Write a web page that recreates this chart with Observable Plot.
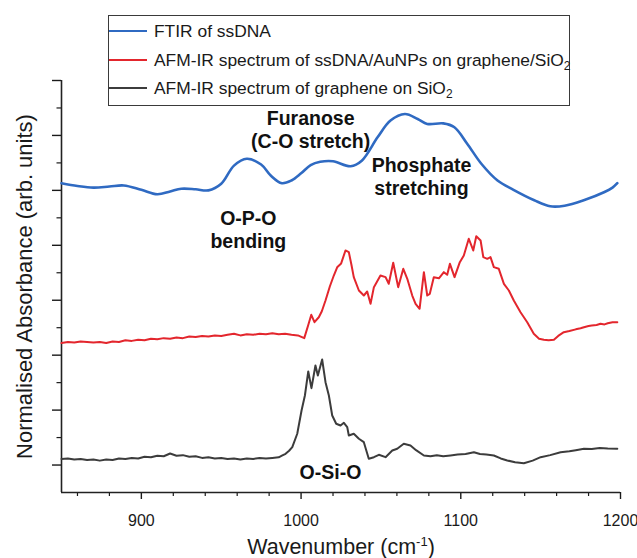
<!DOCTYPE html>
<html>
<head>
<meta charset="utf-8">
<script src="https://cdn.jsdelivr.net/npm/d3@7"></script>
<script src="https://cdn.jsdelivr.net/npm/@observablehq/plot@0.6"></script>
<style>
  body { margin: 0; background: #fff; }
  #wrap { position: relative; width: 637px; height: 558px; font-family: "Liberation Sans", Arial, sans-serif; color: #1a1a1a; }
  #wrap svg { position: absolute; left: 0; top: 0; }
  .legend { position: absolute; left: 108px; top: 15px; width: 462px; height: 91px; border: 1.3px solid #3a3a3a; box-sizing: border-box; background: #fff; }
  .legend .row { position: absolute; left: 0; height: 20px; font-size: 17.4px; line-height: 20px; white-space: nowrap; }
  .legend .sw { position: absolute; left: 0; top: 9px; width: 38px; height: 0; border-top: 2px solid; }
  .legend .lbl { position: absolute; left: 45px; top: 0; }
  .legend sub { font-size: 12px; vertical-align: -4px; line-height: 0; }
  .xtitle { position: absolute; left: 341px; top: 535px; transform: translateX(-50%); font-size: 21.5px; white-space: nowrap; }
  .xtitle sup { font-size: 13px; vertical-align: 8px; line-height: 0; }
</style>
</head>
<body>
<div id="wrap"></div>
<script>
// ---- data ----
const ftirWave = [850,860,870,880,889,900,910,918,925,934,942,950,958,966,975,981,988,994,1000,1006,1012,1020,1031,1038,1048,1056,1065,1073,1079,1089,1096,1104,1113,1123,1133,1146,1156,1165,1177,1190,1195,1198];
const ftirVal  = [5.13,5.08,5.05,5.07,5.09,5.01,4.93,4.98,5.03,5.02,5.00,5.12,5.45,5.575,5.47,5.27,5.13,5.18,5.31,5.46,5.52,5.53,5.44,5.54,5.97,6.27,6.39,6.30,6.21,6.22,6.15,5.85,5.48,5.18,5.01,4.82,4.71,4.72,4.82,4.97,5.05,5.13];

const dnaWave = [850,854,858,862,866,870,874,878,882,886,890,894,898,902,906,910,914,918,922,926,930,934,938,942,946,950,954,958,962,966,970,974,978,982,986,990,994,998,1002,
  1004.5,1006.4,1008.4,1011.1,1013,1015.3,1018,1020.5,1022.6,1025.1,1027.8,1029.9,1031.5,1033,1036.2,1039.3,1041.4,1043.5,1045.6,1049.7,1052.9,1054.9,1057.7,1060.8,1064,1066.5,1069.6,1071.7,1074.2,1076.9,1079,1080.6,1083.1,1086.3,1089.4,1091.5,1093.2,1096.1,1099.4,1101.9,1105,1107.8,1109.7,1112.4,1114.1,1116.6,1118.6,1120.7,1123.8,1127,1130.1,1133.2,1137.4,1141.6,1145.7,1149,1152,1155,1158.3,1161,1164.5,1168,1172,1175,1177.1,1180,1182,1185,1187.5,1190,1192,1195,1198];
const dnaVal = [2.22,2.24,2.23,2.25,2.24,2.23,2.24,2.22,2.25,2.24,2.27,2.26,2.28,2.27,2.30,2.29,2.31,2.30,2.32,2.31,2.34,2.33,2.35,2.34,2.36,2.35,2.37,2.39,2.36,2.38,2.37,2.39,2.38,2.40,2.38,2.39,2.37,2.36,2.31,
  2.55,2.735,2.60,2.69,2.80,2.995,3.25,3.45,3.60,3.67,3.906,3.875,3.65,3.42,3.177,3.086,3.159,2.935,3.238,3.45,3.42,3.30,3.682,3.238,3.572,3.39,3.086,2.935,2.844,3.511,3.086,3.117,3.42,3.40,3.511,3.463,3.663,3.42,3.693,3.815,4.119,3.906,4.166,4.088,3.784,3.754,3.784,3.602,3.572,3.299,3.177,2.995,2.782,2.60,2.389,2.30,2.28,2.27,2.28,2.35,2.418,2.44,2.47,2.49,2.509,2.53,2.54,2.55,2.571,2.56,2.58,2.60,2.60];

const grWave = [850,854,858,862,866,870,874,878,882,886,890,894,898,902,906,910,914,918,922,926,930,934,938,942,946,950,954,958,962,966,970,974,978,982,986,988,990.3,992.5,994.5,997.6,1000.3,1002.4,1004.5,1006.5,1009,1010.5,1013.2,1015.3,1017.4,1019.5,1022,1024.7,1026.8,1028.9,1029.9,1033,1036.2,1039.3,1042.4,1045.6,1048.7,1052.9,1057.1,1060.2,1064.3,1068.5,1072,1076.9,1081,1085,1089,1093.6,1098,1103,1108.2,1112,1116,1120.7,1125,1129.1,1134,1139.5,1145,1150,1156,1162.5,1168,1172,1177.1,1182,1187,1192,1198];
const grVal = [0.11,0.12,0.10,0.11,0.09,0.10,0.08,0.10,0.09,0.12,0.11,0.13,0.12,0.15,0.14,0.17,0.16,0.21,0.17,0.18,0.15,0.16,0.13,0.14,0.12,0.13,0.11,0.12,0.10,0.12,0.11,0.13,0.12,0.13,0.14,0.17,0.205,0.26,0.325,0.569,0.993,1.266,1.703,1.399,1.812,1.63,1.921,1.508,1.266,0.902,0.751,0.72,0.769,0.689,0.538,0.569,0.478,0.416,0.114,0.143,0.186,0.143,0.265,0.296,0.387,0.356,0.27,0.174,0.16,0.18,0.16,0.174,0.19,0.20,0.234,0.20,0.19,0.174,0.12,0.083,0.05,0.033,0.08,0.143,0.18,0.234,0.25,0.27,0.296,0.29,0.31,0.30,0.296];

const xMajor = [900, 1000, 1100, 1200];
const xMinor = [860, 880, 920, 940, 960, 980, 1020, 1040, 1060, 1080, 1120, 1140, 1160, 1180];
const yMajor = [0, 1, 2, 3, 4, 5, 6, 7];
const yMinor = [0.5, 1.5, 2.5, 3.5, 4.5, 5.5, 6.5];

const notes = [
  {text: "Furanose\n(C-O stretch)", w: 1006, v: 6.12},
  {text: "O-P-O\nbending", w: 967, v: 4.30},
  {text: "Phosphate\nstretching", w: 1075.4, v: 5.265},
  {text: "O-Si-O", w: 1018.4, v: -0.118}
];

const seriesNames = ["FTIR of ssDNA", "AFM-IR spectrum of ssDNA/AuNPs on graphene/SiO", "AFM-IR spectrum of graphene on SiO"];
const colors = ["#2f6ac2", "#e3262d", "#3c3c3c"];

// ---- build ----
const ftir = ftirWave.map((w, i) => ({w, v: ftirVal[i]}));
const dna = dnaWave.map((w, i) => ({w, v: dnaVal[i]}));
const gr = grWave.map((w, i) => ({w, v: grVal[i]}));

const plot = Plot.plot({
  width: 637,
  height: 558,
  marginLeft: 61,
  marginRight: 17,
  marginTop: 80,
  marginBottom: 66,
  style: {fontFamily: "'Liberation Sans', Arial, sans-serif", background: "transparent", color: "#1a1a1a", overflow: "visible"},
  x: {domain: [850, 1200]},
  y: {domain: [-0.5, 7]},
  marks: [
    Plot.axisX({ticks: xMajor, tickSize: 7, tickPadding: 15, fontSize: 16, strokeWidth: 1.4, label: null, tickFormat: d => String(d)}),
    Plot.axisX({ticks: xMinor, tickSize: 4, tickFormat: () => "", strokeWidth: 1.2, label: null}),
    Plot.axisY({ticks: yMajor, tickSize: 9, tickFormat: () => "", strokeWidth: 1.4, label: null}),
    Plot.axisY({ticks: yMinor, tickSize: 4.5, tickFormat: () => "", strokeWidth: 1.2, label: null}),
    Plot.ruleX([850], {y1: -0.5, y2: 7, stroke: "#222", strokeWidth: 1.6}),
    Plot.ruleY([-0.5], {x1: 850, x2: 1200, stroke: "#222", strokeWidth: 1.6}),
    Plot.line(gr, {x: "w", y: "v", stroke: colors[2], strokeWidth: 2}),
    Plot.line(dna, {x: "w", y: "v", stroke: colors[1], strokeWidth: 2}),
    Plot.line(ftir, {x: "w", y: "v", stroke: colors[0], strokeWidth: 2.6, curve: "catmull-rom"}),
    Plot.text(notes, {x: "w", y: "v", text: "text", fontSize: 19.5, fontWeight: "bold", lineHeight: 1.2, fill: "#111"}),
    Plot.text(["Normalised Absorbance (arb. units)"], {frameAnchor: "left", textAnchor: "middle", dx: -37, rotate: -90, fontSize: 22, fill: "#1a1a1a"})
  ]
});

const wrap = document.getElementById("wrap");
wrap.appendChild(plot);

// legend
const legend = document.createElement("div");
legend.className = "legend";
const rowTops = [5, 34, 62];
seriesNames.forEach((name, i) => {
  const row = document.createElement("div");
  row.className = "row";
  row.style.top = rowTops[i] + "px";
  const sw = document.createElement("div");
  sw.className = "sw";
  sw.style.borderTopColor = colors[i];
  const lbl = document.createElement("div");
  lbl.className = "lbl";
  lbl.textContent = name;
  if (i > 0) {
    const sub = document.createElement("sub");
    sub.textContent = "2";
    lbl.appendChild(sub);
  }
  row.appendChild(sw);
  row.appendChild(lbl);
  legend.appendChild(row);
});
wrap.appendChild(legend);

const xt = document.createElement("div");
xt.className = "xtitle";
xt.innerHTML = "Wavenumber (cm<sup>-1</sup>)";
wrap.appendChild(xt);
</script>
</body>
</html>
